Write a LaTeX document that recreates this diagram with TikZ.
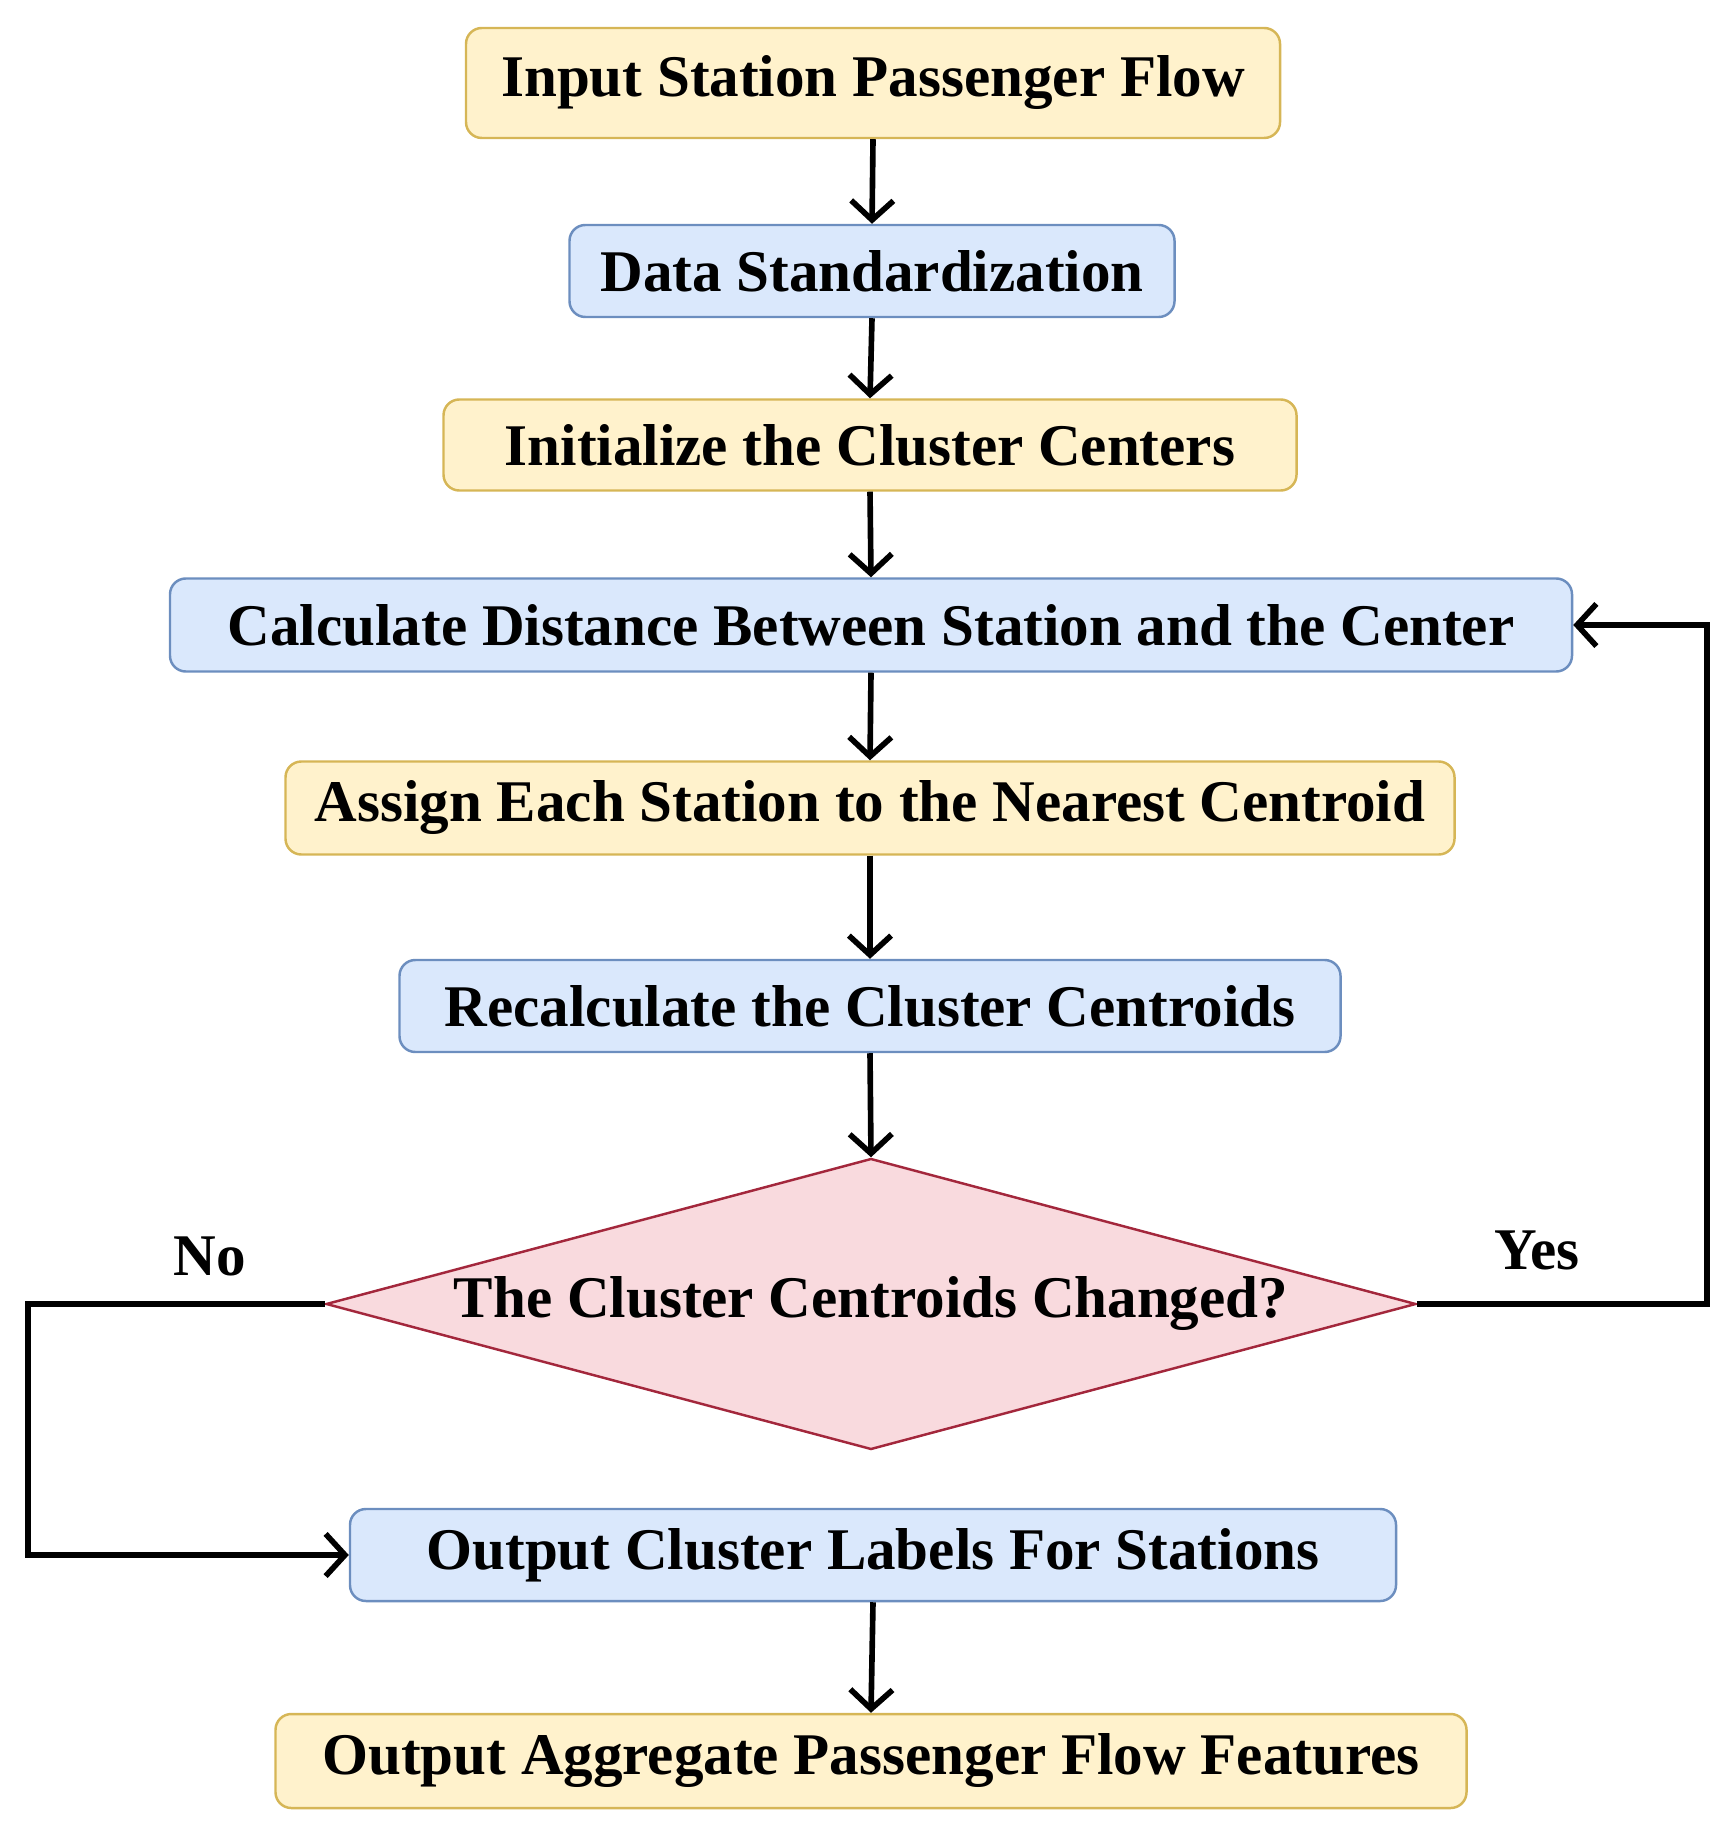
\documentclass[tikz,border=0pt]{standalone}
\usepackage{fontspec}
\setmainfont{Liberation Serif}
\usetikzlibrary{arrows.meta,shapes.geometric}
\definecolor{yfill}{HTML}{FFF2CC}
\definecolor{ydraw}{HTML}{D6B656}
\definecolor{bfill}{HTML}{DAE8FC}
\definecolor{bdraw}{HTML}{6C8EBF}
\definecolor{pfill}{HTML}{F9DADE}
\definecolor{pdraw}{HTML}{A3273C}
\tikzset{
  base/.style={rounded corners=4.5pt, line width=0.7pt, inner sep=0pt, font=\fontsize{16.8}{20}\selectfont\bfseries, anchor=center},
  ybox/.style={base, fill=yfill, draw=ydraw},
  bbox/.style={base, fill=bfill, draw=bdraw},
  dia/.style={diamond, aspect=3.75, fill=pfill, draw=pdraw, line width=0.7pt, inner sep=0pt, font=\fontsize{16.8}{20}\selectfont\bfseries},
  arr/.style={line width=1.6pt, -{Straight Barb[length=5.5pt,width=12pt,line width=1.6pt]}},
  lbl/.style={font=\fontsize{16.8}{20}\selectfont\bfseries}
}
\begin{document}
\begin{tikzpicture}[x=0.01cm,y=-0.01cm]
\useasboundingbox (0,0) rectangle (1734,1828);
\node[ybox, minimum width=814*0.01cm, minimum height=110*0.01cm] (n1) at (873,83) {Input Station Passenger Flow};
\node[bbox, minimum width=605*0.01cm, minimum height=92*0.01cm] (n2) at (872,271) {Data Standardization};
\node[ybox, minimum width=853*0.01cm, minimum height=91*0.01cm] (n3) at (870,445) {Initialize the Cluster Centers};
\node[bbox, minimum width=1402*0.01cm, minimum height=93*0.01cm] (n4) at (871,625) {Calculate Distance Between Station and the Center};
\node[ybox, minimum width=1169*0.01cm, minimum height=93*0.01cm] (n5) at (870,808) {Assign Each Station to the Nearest Centroid};
\node[bbox, minimum width=941*0.01cm, minimum height=92*0.01cm] (n6) at (870,1006) {Recalculate the Cluster Centroids};
\node[dia, minimum width=1090*0.01cm, minimum height=291*0.01cm] (d) at (871,1304) {The Cluster Centroids Changed?};
\node[bbox, minimum width=1046*0.01cm, minimum height=92*0.01cm] (n8) at (873,1555) {Output Cluster Labels For Stations};
\node[ybox, minimum width=1191*0.01cm, minimum height=94*0.01cm] (n9) at (871,1761) {Output Aggregate Passenger Flow Features};
\coordinate (r1) at (1707,1304);
\coordinate (r2) at (1707,625);
\coordinate (l1) at (28,1304);
\coordinate (l2) at (28,1555);
\draw[arr] (n1.south) -- (n2.north);
\draw[arr] (n2.south) -- (n3.north);
\draw[arr] (n3.south) -- (n4.north);
\draw[arr] (n4.south) -- (n5.north);
\draw[arr] (n5.south) -- (n6.north);
\draw[arr] (n6.south) -- (d.north);
\draw[arr] (d.east) -- (r1) -- (r2) -- (n4.east);
\draw[arr] (d.west) -- (l1) -- (l2) -- (n8.west);
\draw[arr] (n8.south) -- (n9.north);
\node[lbl] (no) at (210,1256) {No};
\node[lbl] (yes) at (1537,1250) {Yes};
\end{tikzpicture}
\end{document}
